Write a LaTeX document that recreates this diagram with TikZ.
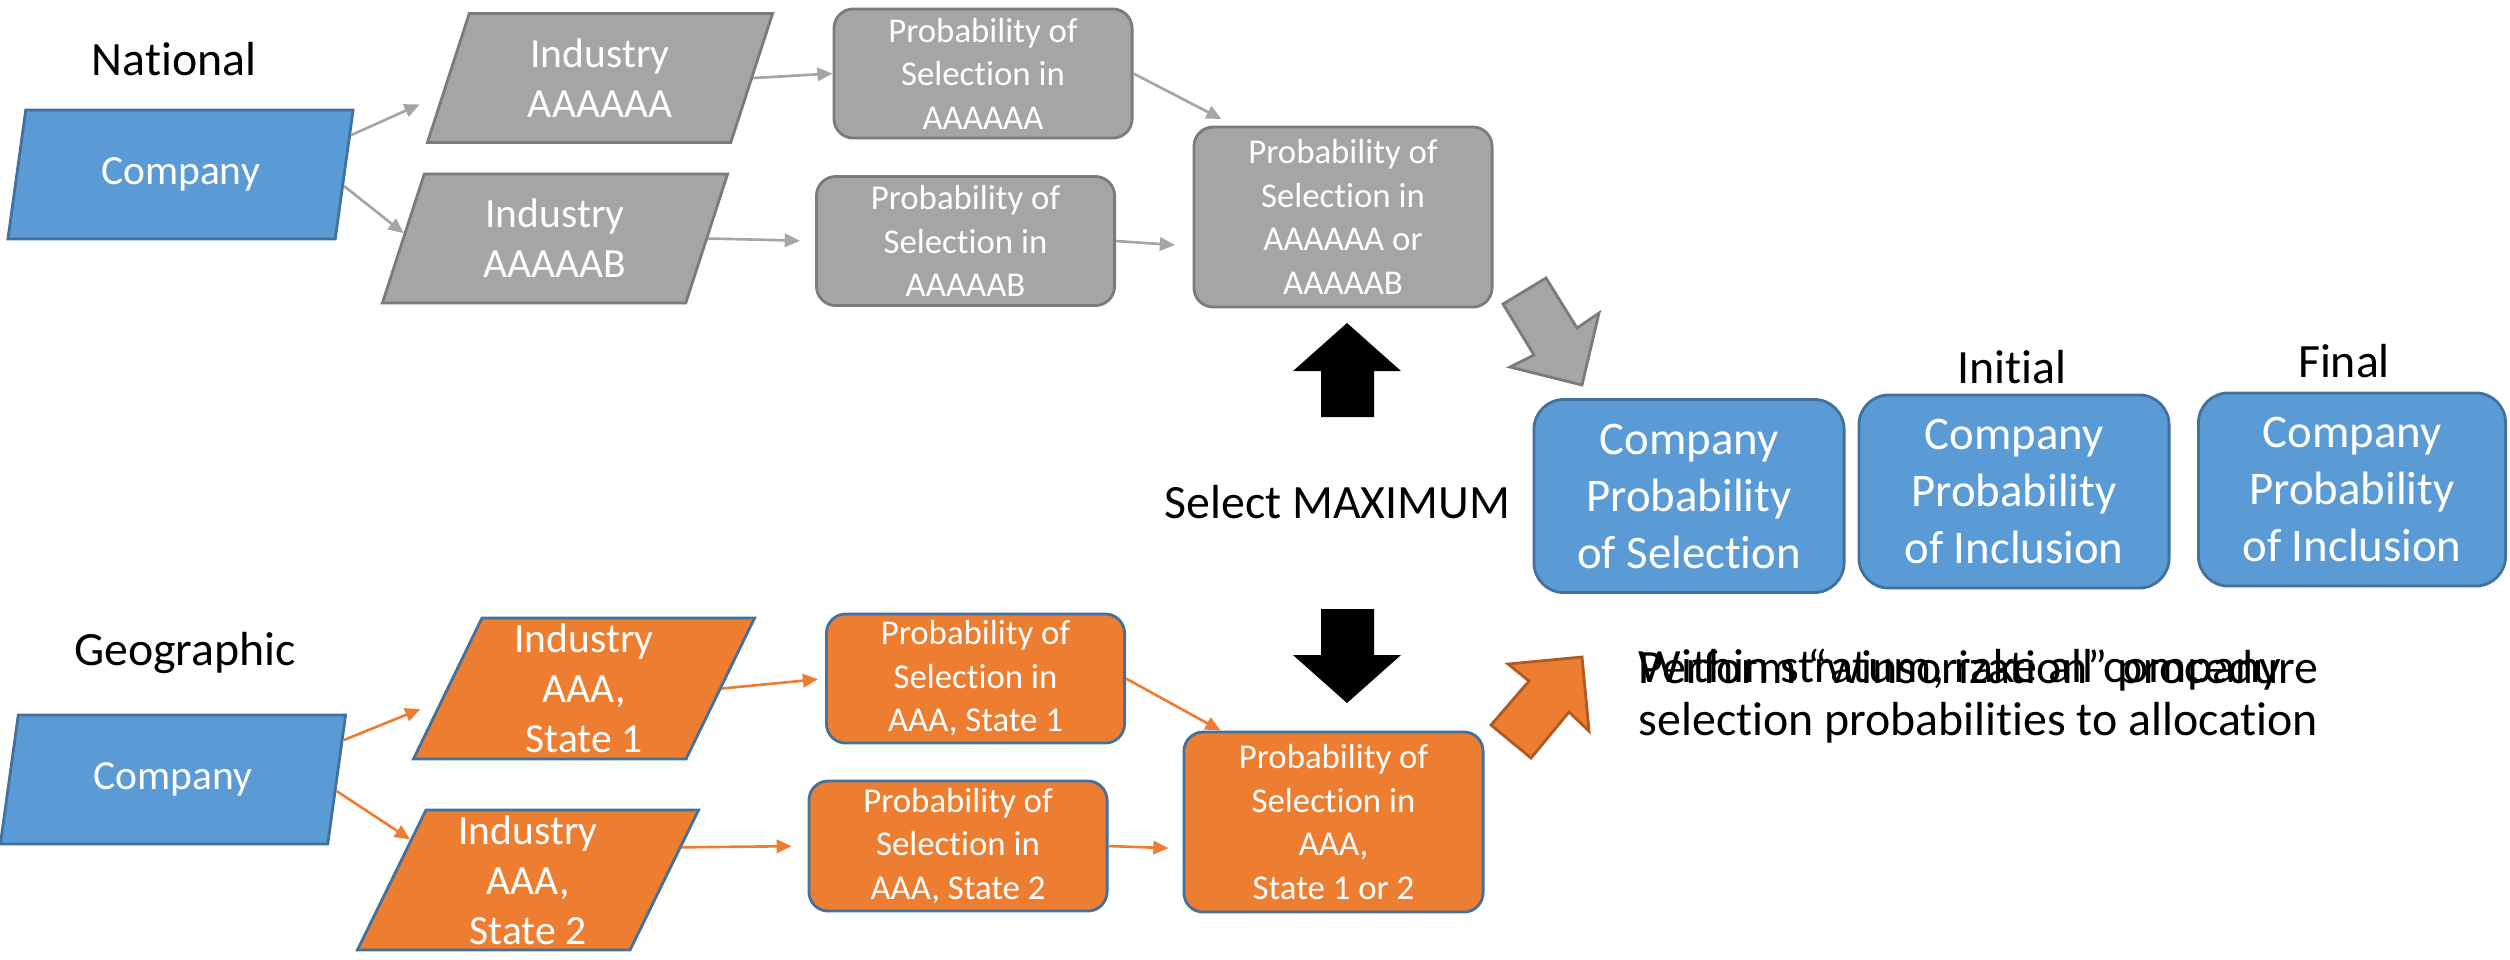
\documentclass[tikz,border=0pt]{standalone}
\usepackage{fontspec}
\setmainfont[Ligatures=NoCommon]{Carlito}
\usetikzlibrary{shapes.geometric,arrows.meta}
\definecolor{azul}{HTML}{5B9BD5}
\definecolor{azulborde}{HTML}{41719C}
\definecolor{gris}{HTML}{A5A5A5}
\definecolor{grisborde}{HTML}{7B7B7B}
\definecolor{naranja}{HTML}{ED7D31}
\definecolor{naranjaborde}{HTML}{AE5A21}
\begin{document}
\begin{tikzpicture}[x=0.01cm,y=-0.01cm,
    lbl/.style={inner sep=0pt,font=\fontsize{13.6}{14.8}\selectfont},
    para/.style={trapezium,trapezium left angle=62,trapezium right angle=118,
        trapezium stretches body,minimum width=3.45cm,minimum height=1.29cm,
        inner sep=0pt,line width=0.8pt,text=white,align=center,
        font=\fontsize{11.8}{14.2}\selectfont},
    prob/.style={rectangle,rounded corners=5.5pt,minimum width=2.98cm,minimum height=1.29cm,
        inner sep=0pt,line width=0.8pt,text=white,align=center,
        font=\fontsize{9.9}{12.4}\selectfont},
    res/.style={rectangle,rounded corners=8.5pt,minimum width=3.1cm,minimum height=1.93cm,
        inner sep=0pt,line width=0.8pt,fill=azul,draw=azulborde,text=white,align=center,
        font=\fontsize{13.3}{16.2}\selectfont},
    lineagris/.style={draw=gris,line width=0.75pt,-{Triangle[length=4.3pt,width=3.8pt]}},
    lineanaranja/.style={draw=naranja,line width=0.75pt,-{Triangle[length=4.3pt,width=3.8pt]}}]
\useasboundingbox (0,0) rectangle (2510,959);

    %Fila nacional
    \node[lbl,anchor=base] (nac) at (174,75) {National};
    \node[para,fill=azul,draw=azulborde] (cn) at (180.5,174.5) {Company};
    \node[para,fill=gris,draw=grisborde] (ia) at (600,78) {Industry\\AAAAAA};
    \node[para,fill=gris,draw=grisborde] (ib) at (555,238.5) {Industry\\AAAAAB};
    \node[prob,fill=gris,draw=grisborde] (pa) at (983,73.5) {Probability of\\Selection in\\AAAAAA};
    \node[prob,fill=gris,draw=grisborde] (pb) at (965.5,241) {Probability of\\Selection in\\AAAAAB};
    \node[prob,fill=gris,draw=grisborde,minimum height=1.8cm] (pab) at (1343,217)
        {Probability of\\Selection in\\AAAAAA or\\AAAAAB};

    \draw[lineagris,shorten >=6.8pt] (cn.13) -- (ia.186);
    \draw[lineagris] (cn.-4) -- (ib.178);
    \draw[lineagris] (ia.east) -- (pa.west);
    \draw[lineagris,shorten >=4.3pt] (ib.east) -- (pb.west);
    \draw[lineagris,shorten >=4pt] (pa.east) -- (pab.140);
    \draw[lineagris,shorten >=5pt] (pb.east) -- (pab.191);

    %Fila geografica
    \node[lbl,anchor=base] (geo) at (185,665) {Geographic};
    \node[para,fill=azul,draw=azulborde] (cg) at (173,779.5) {Company};
    \node[para,fill=naranja,draw=azulborde,minimum height=1.41cm,minimum width=3.41cm] (s1) at (584,688.5)
        {Industry\\AAA,\\State 1};
    \node[para,fill=naranja,draw=azulborde,minimum height=1.40cm,minimum width=3.41cm] (s2) at (528,880)
        {Industry\\AAA,\\State 2};
    \node[prob,fill=naranja,draw=azulborde] (ps1) at (975.5,678.5) {Probability of\\Selection in\\AAA, State 1};
    \node[prob,fill=naranja,draw=azulborde,minimum height=1.3cm] (ps2) at (958,846) {Probability of\\Selection in\\AAA, State 2};
    \node[prob,fill=naranja,draw=azulborde,minimum height=1.8cm,minimum width=2.99cm] (pso) at (1333.5,822)
        {Probability of\\Selection in\\AAA,\\State 1 or 2};

    \draw[lineanaranja,shorten >=6pt] (cg.13) -- (s1.185);
    \draw[lineanaranja] (cg.-4) -- (s2.161);
    \draw[lineanaranja,shorten >=2pt] (s1.east) -- (ps1.west);
    \draw[lineanaranja,shorten >=4.5pt] (s2.12) -- (ps2.west);
    \draw[lineanaranja] (ps1.east) -- (pso.141);
    \draw[lineanaranja,shorten >=4pt] (ps2.east) -- (pso.190);

    %Flechas de bloque
    \fill[black] (1347,323) -- (1401,371) -- (1374,371) -- (1374,417) -- (1321,417) -- (1321,371) -- (1293,371) -- cycle;
    \fill[black] (1347,703) -- (1401,655) -- (1374,655) -- (1374,609) -- (1321,609) -- (1321,655) -- (1293,655) -- cycle;
    \node[lbl,anchor=base west] (max) at (1164,518) {Select MAXIMUM};
    \filldraw[fill=gris,draw=grisborde,line width=0.8pt] (1503,304) -- (1546,278) -- (1577,328) -- (1599,313)
        -- (1582,385) -- (1510,367) -- (1534,355) -- cycle;
    \filldraw[fill=naranja,draw=naranjaborde,line width=0.8pt] (1491,725) -- (1529,681) -- (1508,664) -- (1582,657)
        -- (1589,731) -- (1569,712) -- (1531,758) -- cycle;

    %Resultado
    \node[res] (sel) at (1689,496) {Company\\Probability\\of Selection};
    \node[res] (ini) at (2014,491.5) {Company\\Probability\\of Inclusion};
    \node[res,minimum width=3.07cm] (fin) at (2352,489.5) {Company\\Probability\\of Inclusion};
    \node[lbl,anchor=base] (tini) at (2012,383) {Initial};
    \node[lbl,anchor=base] (tfin) at (2344,377) {Final};
    \node[lbl,anchor=base west,align=left] (rake) at (1638,735)
        {Within stratum, rake all company\\selection probabilities to allocation};
    \node[lbl,anchor=base west] (wins) at (1638,683) {Perform “winsorization” procedure};
\end{tikzpicture}
\end{document}
